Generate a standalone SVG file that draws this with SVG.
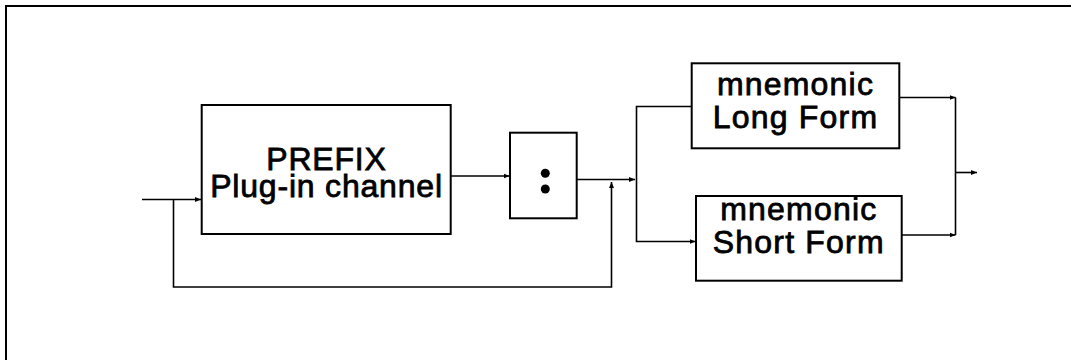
<svg xmlns="http://www.w3.org/2000/svg" width="1071" height="360" viewBox="0 0 1071 360">
<defs>
<marker id="arr" viewBox="0 0 6 6" refX="6" refY="3" markerWidth="6" markerHeight="6" markerUnits="userSpaceOnUse" orient="auto">
<path d="M0,0.5 L6,3 L0,5.5 Z" fill="#000"/>
</marker>
<style>
.box{fill:#fff;stroke:#000;stroke-width:2}
.ln{fill:none;stroke:#000;stroke-width:1.6}
.t{font-family:"Liberation Sans",Arial,sans-serif;font-size:32px;fill:#000;stroke:#000;stroke-width:0.8;text-anchor:middle;letter-spacing:0.8px}
.m{letter-spacing:1.2px}
</style>
</defs>
<rect width="1071" height="360" fill="#fff"/>
<path d="M6,360 V6 H1071" fill="none" stroke="#000" stroke-width="2"/>
<g id="connectors">
<path class="ln" d="M142,199.5 H201" marker-end="url(#arr)"/>
<path class="ln" d="M173.5,199.5 V287 H611.5 V182" marker-end="url(#arr)"/>
<path class="ln" d="M451,176 H509.5" marker-end="url(#arr)"/>
<path class="ln" d="M577,179.5 H635" marker-end="url(#arr)"/>
<path class="ln" d="M691,106.5 H636.5 V241.5 H695.5" marker-end="url(#arr)"/>
<path class="ln" d="M899.5,97.5 H955.5" marker-end="url(#arr)"/>
<path class="ln" d="M902,235 H955.5" marker-end="url(#arr)"/>
<path class="ln" d="M955.5,97.5 V235"/>
<path class="ln" d="M955.5,172.5 H977" marker-end="url(#arr)"/>
</g>
<g id="prefix">
<rect class="box" x="201.7" y="105" width="249" height="129"/>
<text class="t" x="326.5" y="170">PREFIX</text>
<text class="t" x="326.5" y="196.5">Plug-in channel</text>
</g>
<g id="colon">
<rect class="box" x="510" y="132.7" width="66.7" height="85.6"/>
<circle cx="545.3" cy="173.3" r="4.5" fill="#000"/>
<circle cx="545.3" cy="189" r="4.5" fill="#000"/>
</g>
<g id="long">
<rect class="box" x="691.7" y="63.3" width="207.6" height="85"/>
<text class="t m" x="795.5" y="95">mnemonic</text>
<text class="t m" x="795.5" y="128.3">Long Form</text>
</g>
<g id="short">
<rect class="box" x="696" y="196" width="205.7" height="84.7"/>
<text class="t m" x="798.8" y="220">mnemonic</text>
<text class="t m" x="798.8" y="253.3">Short Form</text>
</g>
</svg>
